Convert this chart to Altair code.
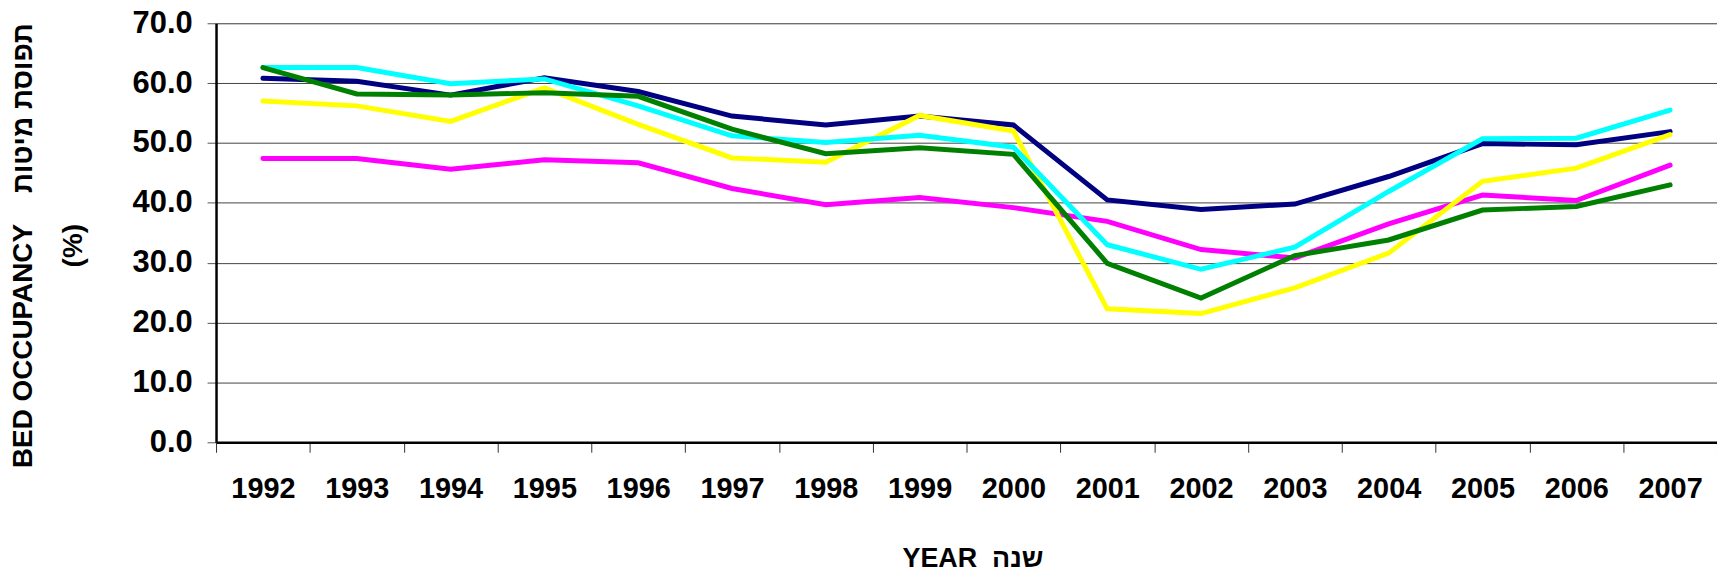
import altair as alt
import pandas as pd

years = [1992, 1993, 1994, 1995, 1996, 1997, 1998, 1999, 2000, 2001, 2002, 2003, 2004, 2005, 2006, 2007]

series_names = ["navy", "magenta", "yellow", "cyan", "green"]
series_colors = ["#000080", "#FF00FF", "#FFFF00", "#00FFFF", "#008000"]

navy = [60.8, 60.3, 58.0, 60.9, 58.6, 54.5, 53.0, 54.5, 53.0, 40.5, 38.9, 39.8, 44.4, 49.9, 49.7, 51.9]
magenta = [47.4, 47.4, 45.6, 47.2, 46.7, 42.4, 39.7, 40.9, 39.2, 36.9, 32.2, 30.8, 36.5, 41.3, 40.4, 46.3]
yellow = [57.0, 56.2, 53.6, 59.2, 53.1, 47.5, 46.8, 54.6, 52.0, 22.3, 21.5, 25.8, 31.6, 43.6, 45.8, 51.4]
cyan = [62.6, 62.6, 59.9, 60.7, 56.2, 51.2, 50.1, 51.3, 49.3, 33.0, 28.9, 32.6, 41.9, 50.7, 50.8, 55.5]
green = [62.6, 58.2, 58.0, 58.4, 57.8, 52.3, 48.2, 49.2, 48.1, 29.9, 24.1, 31.2, 33.8, 38.8, 39.4, 43.0]

y_ticks = [0, 10, 20, 30, 40, 50, 60, 70]

series_values = [navy, magenta, yellow, cyan, green]

FONT = "Liberation Sans, Arial, sans-serif"
NB = "\u00a0"

x_enc = alt.X(
    "year:O",
    scale=alt.Scale(type="band", paddingInner=0, paddingOuter=0),
    axis=alt.Axis(
        title="YEAR" + NB + NB + "שנה",
        labelAngle=0,
        tickBand="extent",
        tickSize=10,
        tickColor="#333333",
        tickWidth=1,
        labelPadding=22,
        labelFont=FONT,
        labelFontSize=29,
        labelFontWeight="bold",
        labelColor="black",
        domainColor="black",
        domainWidth=2.5,
        grid=False,
        titleFont=FONT,
        titleFontSize=27,
        titleFontWeight="bold",
        titleColor="black",
        titleBaseline="alphabetic",
        titleAlign="center",
        titleX=760,
        titleY=125,
    ),
)

y_enc = alt.Y(
    "value:Q",
    scale=alt.Scale(domain=[0, 70], nice=False),
    axis=alt.Axis(
        title=["BED OCCUPANCY" + NB * 4 + "תפוסת מיטות", "(%)"],
        values=y_ticks,
        format=".1f",
        tickSize=9,
        tickColor="#555555",
        labelPadding=15,
        labelFont=FONT,
        labelFontSize=31,
        labelFontWeight="bold",
        labelColor="black",
        domainColor="black",
        domainWidth=2.5,
        grid=True,
        gridColor="#444444",
        gridWidth=1,
        titleFont=FONT,
        titleFontSize=28,
        titleFontWeight="bold",
        titleColor="black",
        titleAngle=270,
        titleAlign="center",
        titleBaseline="middle",
        titleLineHeight=50,
        titleX=-193,
        titleY=223,
    ),
)

layers = []
for name, color, vals in zip(series_names, series_colors, series_values):
    df = pd.DataFrame({"year": years, "value": vals, "series": name})
    layers.append(
        alt.Chart(df)
        .mark_line(color=color, strokeWidth=5, strokeCap="round", strokeJoin="miter")
        .encode(x=x_enc, y=y_enc)
    )

chart = (
    alt.layer(*layers)
    .properties(
        width=1508,
        height=421,
        padding={"left": 209, "top": 14, "right": 0, "bottom": 134},
        autosize=alt.AutoSizeParams(type="none"),
    )
    .configure_view(stroke="black", strokeWidth=2)
    .configure(background="white")
)

chart.save("out.html", embed_options={"renderer": "svg", "actions": False})
